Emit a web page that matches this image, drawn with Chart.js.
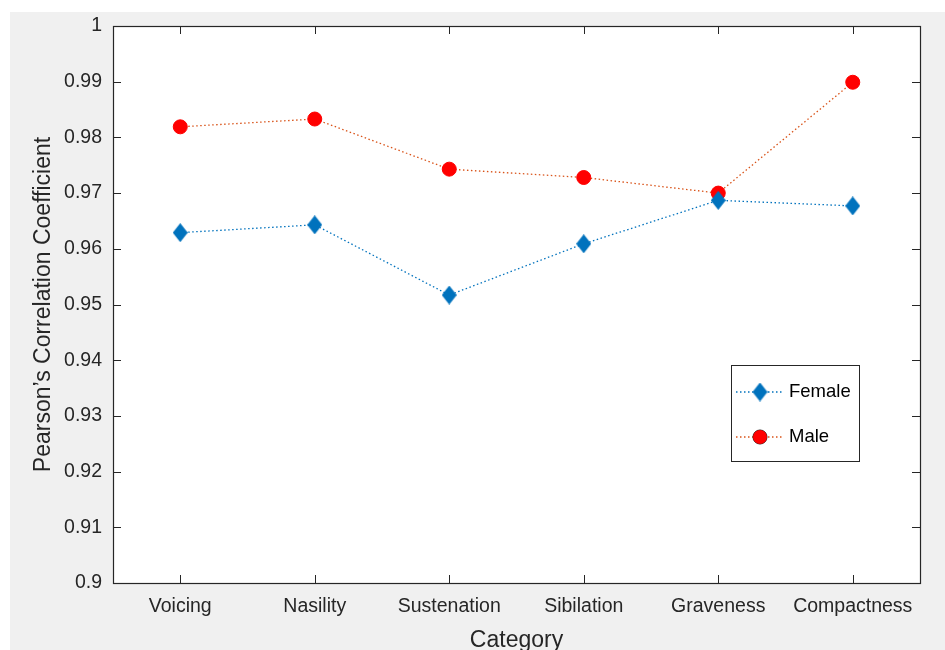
<!DOCTYPE html>
<html>
<head>
<meta charset="utf-8">
<script src="https://cdn.jsdelivr.net/npm/chart.js@4/dist/chart.umd.min.js"></script>
<style>
  html, body { margin: 0; padding: 0; background: #ffffff; }
  #wrap { width: 945px; height: 650px; }
</style>
</head>
<body>
<div id="wrap"><canvas id="c" width="945" height="650"></canvas></div>
<script>
// Feature categories and per-speaker correlation coefficients
const categories = ['Voicing', 'Nasility', 'Sustenation', 'Sibilation', 'Graveness', 'Compactness'];
const femaleValues = [0.9629, 0.9643, 0.9517, 0.9609, 0.9687, 0.9677];
const maleValues   = [0.9819, 0.9833, 0.9743, 0.9728, 0.9700, 0.9899];
const yTickMin = 0.9;
const yTickMax = 1;
const yTickStep = 0.01;

const FEMALE_COLOR = '#0072BD';
const MALE_LINE = '#D95319';
const MALE_MARK = '#FF0000';
const AXIS_COLOR = '#262626';
const FONT = "'Liberation Sans', Arial, Helvetica, sans-serif";

// Tall filled diamond used as the Female marker
function makeDiamond(w, h, color) {
  const cv = document.createElement('canvas');
  cv.width = w; cv.height = h;
  const g = cv.getContext('2d');
  g.fillStyle = color;
  g.beginPath();
  g.moveTo(w / 2, 0);
  g.lineTo(w, h / 2);
  g.lineTo(w / 2, h);
  g.lineTo(0, h / 2);
  g.closePath();
  g.fill();
  return cv;
}
const diamond = makeDiamond(15, 19, FEMALE_COLOR);

// Figure background, white axes area, box with inward ticks, and legend
const figurePlugin = {
  id: 'figure',
  beforeDraw(chart) {
    const { ctx, chartArea: a } = chart;
    ctx.save();
    ctx.fillStyle = '#ffffff';
    ctx.fillRect(0, 0, chart.width, chart.height);
    ctx.fillStyle = '#F0F0F0';
    ctx.fillRect(10, 12, chart.width - 10, chart.height - 12);
    ctx.fillStyle = '#ffffff';
    ctx.fillRect(a.left, a.top, a.right - a.left, a.bottom - a.top);
    ctx.restore();
  },
  afterDraw(chart) {
    const { ctx, chartArea: a, scales } = chart;
    const tl = 8;
    ctx.save();
    ctx.strokeStyle = AXIS_COLOR;
    ctx.lineWidth = 1;
    ctx.beginPath();
    scales.y.ticks.forEach((t, i) => {
      const py = Math.round(scales.y.getPixelForTick(i)) + 0.5;
      ctx.moveTo(a.left, py); ctx.lineTo(a.left + tl, py);
      ctx.moveTo(a.right, py); ctx.lineTo(a.right - tl, py);
    });
    scales.x.ticks.forEach((t, i) => {
      const px = Math.round(scales.x.getPixelForTick(i)) + 0.5;
      ctx.moveTo(px, a.bottom); ctx.lineTo(px, a.bottom - tl);
      ctx.moveTo(px, a.top); ctx.lineTo(px, a.top + tl);
    });
    ctx.stroke();
    ctx.lineWidth = 1.2;
    ctx.strokeRect(Math.round(a.left) + 0.5, Math.round(a.top) + 0.5,
                   Math.round(a.right - a.left), Math.round(a.bottom - a.top));

    // legend box
    const bx = a.right - 189, by = a.top + 339, bw = 128, bh = 96;
    ctx.fillStyle = '#ffffff';
    ctx.fillRect(bx, by, bw, bh);
    ctx.strokeStyle = AXIS_COLOR;
    ctx.lineWidth = 1;
    ctx.strokeRect(bx + 0.5, by + 0.5, bw, bh);
    chart.data.datasets.forEach((ds, i) => {
      const ry = by + 27 + i * 45;
      ctx.save();
      ctx.strokeStyle = ds.borderColor;
      ctx.lineWidth = ds.borderWidth;
      ctx.setLineDash(ds.borderDash);
      ctx.beginPath();
      ctx.moveTo(bx + 5, ry); ctx.lineTo(bx + 53, ry);
      ctx.stroke();
      ctx.restore();
      Chart.helpers.drawPoint(ctx, {
        pointStyle: ds.pointStyle,
        radius: ds.pointRadius,
        borderWidth: 1,
        rotation: 0
      }, bx + 29, ry);
      if (ds.pointStyle === 'circle') {
        ctx.save();
        ctx.fillStyle = ds.pointBackgroundColor;
        ctx.beginPath();
        ctx.arc(bx + 29, ry, ds.pointRadius, 0, Math.PI * 2);
        ctx.fill();
        ctx.restore();
      }
      ctx.fillStyle = '#000000';
      ctx.font = '18.5px ' + FONT;
      ctx.textBaseline = 'middle';
      ctx.textAlign = 'left';
      ctx.fillText(ds.label, bx + 58, ry);
    });
    ctx.restore();
  }
};

new Chart(document.getElementById('c'), {
  type: 'line',
  data: {
    labels: categories,
    datasets: [
      {
        label: 'Female',
        data: femaleValues,
        borderColor: FEMALE_COLOR,
        borderWidth: 1.3,
        borderDash: [1.5, 2.5],
        pointStyle: diamond,
        pointRadius: 8,
        pointHoverRadius: 8,
        pointBackgroundColor: FEMALE_COLOR,
        pointBorderColor: FEMALE_COLOR,
        tension: 0
      },
      {
        label: 'Male',
        data: maleValues,
        borderColor: MALE_LINE,
        borderWidth: 1.3,
        borderDash: [1.5, 2.5],
        pointStyle: 'circle',
        pointRadius: 7,
        pointHoverRadius: 7,
        pointBackgroundColor: MALE_MARK,
        pointBorderColor: MALE_MARK,
        pointBorderWidth: 1,
        tension: 0
      }
    ]
  },
  options: {
    responsive: false,
    animation: false,
    devicePixelRatio: 1,
    layout: { padding: { left: 30, right: 25, top: 26, bottom: 0 } },
    plugins: {
      legend: { display: false },
      tooltip: { enabled: false }
    },
    scales: {
      x: {
        type: 'category',
        offset: true,
        grid: { display: false, drawTicks: false, tickLength: 0 },
        border: { display: false },
        ticks: {
          color: AXIS_COLOR,
          font: { family: FONT, size: 19.5 },
          padding: 12,
          maxRotation: 0,
          autoSkip: false
        },
        title: {
          display: true,
          text: 'Category',
          color: AXIS_COLOR,
          font: { family: FONT, size: 23, lineHeight: 0.85 },
          padding: 0
        },
        afterFit(scale) { scale.height = 67; }
      },
      y: {
        type: 'linear',
        min: yTickMin,
        max: yTickMax,
        grid: { display: false, drawTicks: false, tickLength: 0 },
        border: { display: false },
        ticks: {
          stepSize: yTickStep,
          color: AXIS_COLOR,
          font: { family: FONT, size: 19.5 },
          padding: 11,
          callback: (v) => String(parseFloat(Number(v).toFixed(2)))
        },
        title: {
          display: true,
          text: 'Pearson\u2019s Correlation Coefficient',
          color: AXIS_COLOR,
          font: { family: FONT, size: 23 },
          padding: 0
        },
        afterFit(scale) { scale.width = 83; }
      }
    }
  },
  plugins: [figurePlugin]
});
</script>
</body>
</html>
